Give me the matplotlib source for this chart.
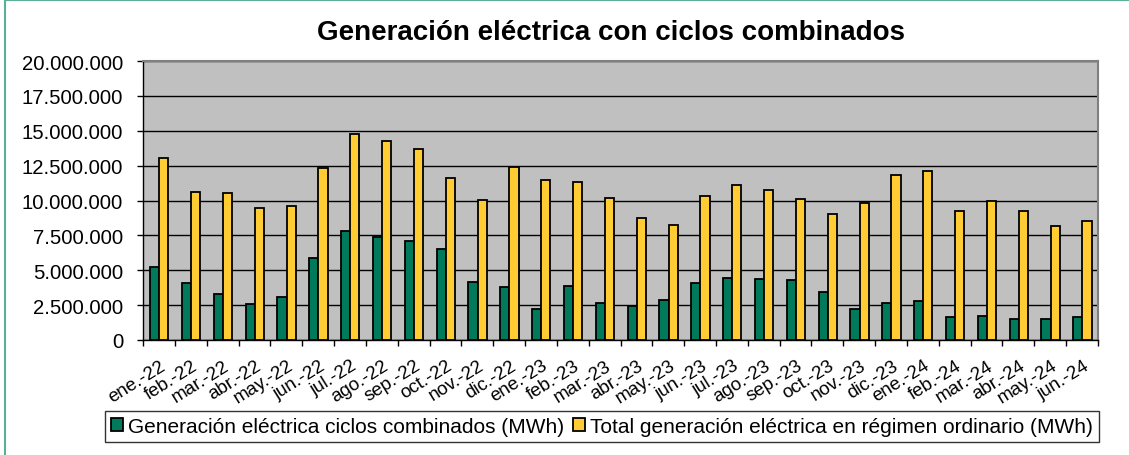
import matplotlib
matplotlib.use("Agg")
import matplotlib.pyplot as plt
import numpy as np
from matplotlib.patches import Rectangle
from matplotlib.ticker import FuncFormatter, MultipleLocator

months = ["ene.-22", "feb.-22", "mar.-22", "abr.-22", "may.-22", "jun.-22", "jul.-22", "ago.-22",
          "sep.-22", "oct.-22", "nov.-22", "dic.-22", "ene.-23", "feb.-23", "mar.-23", "abr.-23",
          "may.-23", "jun.-23", "jul.-23", "ago.-23", "sep.-23", "oct.-23", "nov.-23", "dic.-23",
          "ene.-24", "feb.-24", "mar.-24", "abr.-24", "may.-24", "jun.-24"]
ciclos = [5210000, 4110000, 3270000, 2600000, 3110000, 5850000, 7790000, 7360000,
          7070000, 6500000, 4160000, 3800000, 2220000, 3850000, 2630000, 2440000,
          2870000, 4090000, 4420000, 4400000, 4280000, 3470000, 2220000, 2650000,
          2770000, 1620000, 1700000, 1530000, 1530000, 1650000]
total = [13050000, 10610000, 10510000, 9490000, 9630000, 12300000, 14740000, 14290000,
         13720000, 11610000, 10010000, 12380000, 11450000, 11330000, 10180000, 8770000,
         8240000, 10320000, 11110000, 10780000, 10130000, 9060000, 9800000, 11830000,
         12110000, 9270000, 9990000, 9270000, 8170000, 8530000]
label_c = "Generación eléctrica ciclos combinados (MWh)"
label_t = "Total generación eléctrica en régimen ordinario (MWh)"
title = "Generación eléctrica con ciclos combinados"

plt.rcParams['font.family'] = ['Liberation Sans', 'DejaVu Sans']

W, H = 1129, 456
fig = plt.figure(figsize=(W / 100, H / 100), dpi=100)
ax = fig.add_axes([143 / W, 1 - 341 / H, (1098 - 143) / W, (341 - 62) / H])
ax.set_facecolor('#C0C0C0')

x = np.arange(len(months))
w = 0.29
ax.bar(x - 0.135, ciclos, width=w, color='#007A5A', edgecolor='black', linewidth=1.3,
       label=label_c, zorder=3)
ax.bar(x + 0.155, total, width=w, color='#FFCC33', edgecolor='black', linewidth=1.3,
       label=label_t, zorder=3)

ax.set_xlim(-0.5, len(months) - 0.5)
ax.set_ylim(0, 20000000)
ax.yaxis.set_major_locator(MultipleLocator(2500000))
ax.yaxis.set_major_formatter(FuncFormatter(lambda v, p: f"{int(v):,}".replace(",", ".")))
ax.grid(axis='y', color='black', linewidth=1.0, zorder=1)
ax.set_axisbelow(True)

ax.set_xticks(np.arange(-0.5, len(months), 1.0))
ax.set_xticklabels([])
ax.set_xticks(x + 0.03, minor=True)
ax.set_xticklabels(months, minor=True, rotation=32, ha='right', va='top', rotation_mode='anchor')
ax.tick_params(axis='x', which='minor', length=0, pad=12, labelsize=13.5)
ax.tick_params(axis='x', which='major', length=4, width=1, color='black', direction='out')
ax.tick_params(axis='y', length=4.3, width=1, labelsize=14.6, pad=10)

for s in ['top', 'right']:
    ax.spines[s].set_color('#808080')
    ax.spines[s].set_linewidth(1.5)
for s in ['left', 'bottom']:
    ax.spines[s].set_color('black')
    ax.spines[s].set_linewidth(1.0)

fig.text(611 / W, 1 - 33 / H, title, ha='center', va='center', fontsize=20, fontweight='bold')

leg = fig.legend(loc='center', bbox_to_anchor=(602 / W, 1 - 427.5 / H), ncol=2,
                 frameon=True, fancybox=False, edgecolor='black', fontsize=15,
                 handlelength=0.55, handleheight=0.55, handletextpad=0.25, columnspacing=0.45,
                 borderpad=0.3, borderaxespad=0)
leg.get_frame().set_linewidth(1.0)

fig.patches.append(Rectangle((4.5 / W, -0.1), 2, 1.1 - 0.7 / H, transform=fig.transFigure,
                             fill=False, edgecolor='#5BAF98', linewidth=1.5))

fig.savefig("out.png", dpi=100)
